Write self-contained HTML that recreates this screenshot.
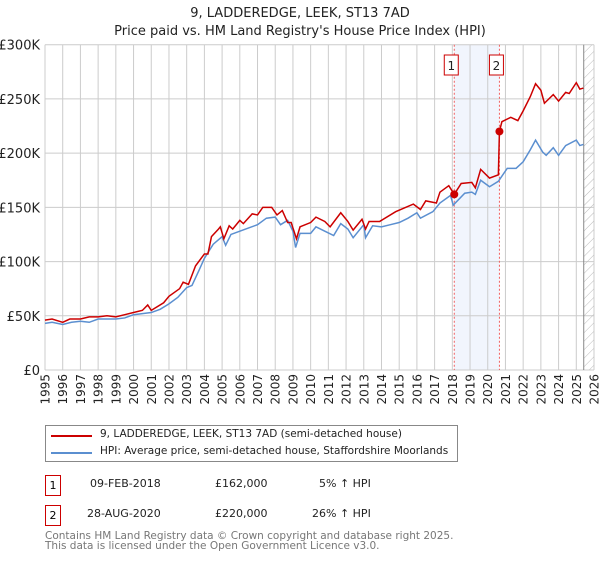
<!DOCTYPE html>
<html><head><meta charset="utf-8"><style>
body{margin:0;background:#fff;font-family:"DejaVu Sans","Liberation Sans",sans-serif;}
svg text{font-family:"DejaVu Sans","Liberation Sans",sans-serif;}
.t{position:absolute;font-size:11px;color:#222;white-space:nowrap}
</style></head><body>
<svg id="chart" width="600" height="560" xmlns="http://www.w3.org/2000/svg">
<defs><pattern id="hatch" width="6" height="6" patternUnits="userSpaceOnUse" patternTransform="rotate(45)"><line x1="0" y1="0" x2="0" y2="6" stroke="#bbb" stroke-width="1"/></pattern></defs>
<text x="300" y="17" text-anchor="middle" font-size="13" fill="#222">9, LADDEREDGE, LEEK, ST13 7AD</text>
<text x="300" y="35" text-anchor="middle" font-size="13" fill="#222">Price paid vs. HM Land Registry's House Price Index (HPI)</text>
<g id="grid"></g><g id="marks"></g>
</svg>
<div style="position:absolute;left:45px;top:425px;width:411px;height:35px;border:1px solid #888;">
 <div style="position:absolute;left:5px;top:9px;width:41px;height:2px;background:#cc0000"></div>
 <div class="t" style="left:54px;top:2px;font-size:10.5px">9, LADDEREDGE, LEEK, ST13 7AD (semi-detached house)</div>
 <div style="position:absolute;left:5px;top:26px;width:41px;height:2px;background:#5b8fd0"></div>
 <div class="t" style="left:54px;top:19px;font-size:10.5px">HPI: Average price, semi-detached house, Staffordshire Moorlands</div>
</div>
<div style="position:absolute;left:45px;top:475px;width:14px;height:19px;border:1px solid #cc0000;font-size:11px;text-align:center;line-height:19px">1</div>
<div class="t" style="left:90px;top:477px">09-FEB-2018</div>
<div class="t" style="left:215px;top:477px">£162,000</div>
<div class="t" style="left:319px;top:477px">5% ↑ HPI</div>
<div style="position:absolute;left:45px;top:505px;width:14px;height:19px;border:1px solid #cc0000;font-size:11px;text-align:center;line-height:19px">2</div>
<div class="t" style="left:87px;top:507px">28-AUG-2020</div>
<div class="t" style="left:215px;top:507px">£220,000</div>
<div class="t" style="left:312px;top:507px">26% ↑ HPI</div>
<div class="t" style="left:45px;top:531px;font-size:10.5px;color:#777;line-height:10px">Contains HM Land Registry data © Crown copyright and database right 2025.<br>This data is licensed under the Open Government Licence v3.0.</div>
<script>
const yTicks=[0,50,100,150,200,250,300];
const yTickLabels=["£0","£50K","£100K","£150K","£200K","£250K","£300K"];
const xYears=[1995,1996,1997,1998,1999,2000,2001,2002,2003,2004,2005,2006,2007,2008,2009,2010,2011,2012,2013,2014,2015,2016,2017,2018,2019,2020,2021,2022,2023,2024,2025,2026];
const hpiDates=[1995,1995.4,1996,1996.5,1997,1997.5,1998,1998.5,1999,1999.5,2000,2000.5,2001,2001.5,2002,2002.5,2003,2003.3,2003.7,2004,2004.5,2005,2005.2,2005.5,2006,2006.5,2007,2007.5,2008,2008.3,2008.7,2009,2009.15,2009.4,2010,2010.3,2010.8,2011.3,2011.7,2012.1,2012.4,2013,2013.1,2013.5,2014,2014.5,2015,2015.5,2016,2016.2,2016.9,2017.3,2017.9,2018.05,2018.7,2019.1,2019.3,2019.6,2020.1,2020.6,2021.1,2021.6,2022,2022.4,2022.7,2023.1,2023.3,2023.7,2024,2024.4,2025,2025.2,2025.4];
const hpiValues=[43,44,42,44,45,44,47,47,47,48,51,52,53,56,61,67,76,78,92,103,116,123,115,125,128,131,134,140,141,134,138,128,113,126,126,132,128,124,135,130,122,134,122,133,132,134,136,140,145,140,146,154,161,152,163,164,162,175,169,174,186,186,192,203,212,201,198,205,198,207,212,207,208];
const priceDates=[1995,1995.4,1996,1996.4,1997,1997.5,1998,1998.5,1999,1999.5,2000,2000.5,2000.8,2001,2001.7,2002,2002.6,2002.8,2003.1,2003.5,2004,2004.2,2004.4,2004.8,2004.9,2005.1,2005.4,2005.6,2006,2006.2,2006.7,2007,2007.3,2007.8,2008.1,2008.4,2008.7,2008.9,2009.2,2009.4,2010,2010.3,2010.8,2011.1,2011.7,2012.1,2012.4,2012.9,2013.1,2013.3,2013.9,2014.8,2015.8,2016.2,2016.5,2017.1,2017.3,2017.8,2018.11,2018.5,2019.1,2019.3,2019.6,2020.1,2020.6,2020.66,2020.8,2021.3,2021.7,2022,2022.4,2022.7,2023,2023.2,2023.7,2024,2024.4,2024.6,2025,2025.2,2025.4];
const priceValues=[46,47,44,47,47,49,49,50,49,51,53,55,60,55,62,68,75,81,79,96,107,107,123,130,132,121,133,130,138,135,144,143,150,150,143,147,136,136,121,132,136,141,137,132,145,137,129,139,130,137,137,146,153,148,156,154,164,170,162,172,173,168,185,177,180,220,229,233,230,239,252,264,258,246,254,248,256,255,265,259,260];
const sales=[[2018.11,162],[2020.66,220]];
const NS='http://www.w3.org/2000/svg';
const X=y=>45+(y-1995)*(549/31), Y=v=>370-v*(325.3/300);
const grid=document.getElementById('grid'), marks=document.getElementById('marks');
function mk(tag,at,par){const e=document.createElementNS(NS,tag);for(const k in at)e.setAttribute(k,at[k]);par.appendChild(e);return e;}
const band=mk('rect',{x:X(sales[0][0]),y:44.7,width:X(sales[1][0])-X(sales[0][0]),height:325.3,fill:'#eef3fc',opacity:0.8},grid);


yTicks.forEach((v,i)=>{
 const l=mk('line',{x1:45,x2:594,y1:Y(v),y2:Y(v),stroke:'#ccc'},grid);
 
 
 const t=mk('text',{x:40,y:Y(v)+5,'text-anchor':'end','font-size':13,fill:'#222'},grid);
 t.textContent=yTickLabels[i];
 
 
});
xYears.forEach(yr=>{
 const l=mk('line',{x1:X(yr),x2:X(yr),y1:44.7,y2:370,stroke:'#ccc'},grid);
 
 
 const t=mk('text',{transform:`translate(${X(yr)+4.5},374) rotate(-90)`,'text-anchor':'end','font-size':12,fill:'#222'},grid);
 t.textContent=yr;
 
 
});
const hx=X(2025.42);
const h=mk('rect',{x:hx,y:44.7,width:594-hx,height:325.3,fill:'url(#hatch)'},grid);


const hl=mk('line',{x1:hx,x2:hx,y1:44.7,y2:370,stroke:'#888'},grid);


sales.forEach((s,i)=>{
 const v=mk('line',{x1:X(s[0]),x2:X(s[0]),y1:44.7,y2:370,stroke:'#f06060','stroke-dasharray':'2,2'},grid);
 
 
 const b=mk('rect',{x:X(s[0])-10,y:55,width:14,height:20,fill:'#fff',stroke:'#cc0000'},grid);
 
 
 const t=mk('text',{x:X(s[0])-3,y:70,'text-anchor':'middle','font-size':12,fill:'#222'},grid);
 t.textContent=String(i+1);
 
 
});
const hp=mk('polyline',{points:hpiDates.map((d,i)=>X(d)+','+Y(hpiValues[i])).join(' '),fill:'none',stroke:'#5b8fd0','stroke-width':1.5},marks);


const pp=mk('polyline',{points:priceDates.map((d,i)=>X(d)+','+Y(priceValues[i])).join(' '),fill:'none',stroke:'#cc0000','stroke-width':1.5},marks);


sales.forEach(s=>{
 const c=mk('circle',{cx:X(s[0]),cy:Y(s[1]),r:4,fill:'#cc0000'},marks);
 
 
});
</script>
</body></html>
